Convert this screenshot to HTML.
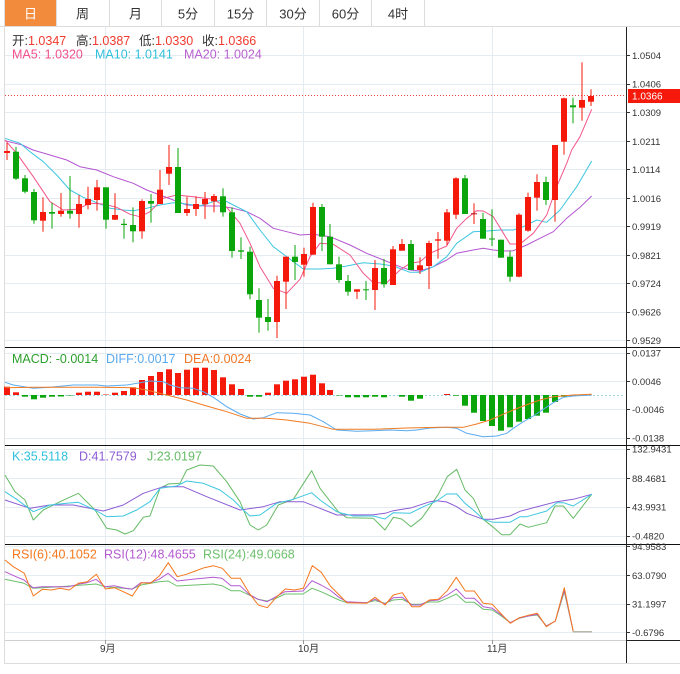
<!DOCTYPE html>
<html><head><meta charset="utf-8"><style>
html,body{margin:0;padding:0;background:#fff;}
svg{display:block;}
.r{fill:#f4190a}.g{fill:#0aa50a}.d{fill:#b01010}
.gl{stroke:#e4ebf1;stroke-width:1;shape-rendering:crispEdges}
.ax{font-family:"Liberation Sans",sans-serif;font-size:9.5px;fill:#333}
.lg{font-family:"Liberation Sans","Noto Sans CJK SC",sans-serif;font-size:12.5px}
.tb{font-family:"Liberation Sans","Noto Sans CJK SC",sans-serif;font-size:13px;fill:#333;text-anchor:middle}
.tk{stroke:#333;stroke-width:1;shape-rendering:crispEdges}
.ln{fill:none;stroke-width:1;stroke-linejoin:round}
</style></head><body>
<svg width="680" height="674" viewBox="0 0 680 674" xmlns="http://www.w3.org/2000/svg">
<rect x="0" y="0" width="680" height="674" fill="#fff"/>
<!-- tabs -->
<rect x="5" y="0" width="51" height="26" fill="#f38b3c"/>
<g stroke="#dcdcdc" stroke-width="1" shape-rendering="crispEdges">
<line x1="4.5" y1="0" x2="4.5" y2="663"/>
<line x1="56.5" y1="0" x2="56.5" y2="26"/>
<line x1="109.5" y1="0" x2="109.5" y2="26"/>
<line x1="161.5" y1="0" x2="161.5" y2="26"/>
<line x1="214.5" y1="0" x2="214.5" y2="26"/>
<line x1="266.5" y1="0" x2="266.5" y2="26"/>
<line x1="319.5" y1="0" x2="319.5" y2="26"/>
<line x1="371.5" y1="0" x2="371.5" y2="26"/>
<line x1="424.5" y1="0" x2="424.5" y2="26"/>
<line x1="0" y1="26.5" x2="680" y2="26.5"/>
<line x1="4" y1="663.5" x2="680" y2="663.5"/>
</g>
<text class="tb" x="30.5" y="18.5" style="fill:#fff">日</text>
<text class="tb" x="82.5" y="18.5">周</text>
<text class="tb" x="135.5" y="18.5">月</text>
<text class="tb" x="188" y="18.5">5分</text>
<text class="tb" x="240.5" y="18.5">15分</text>
<text class="tb" x="293" y="18.5">30分</text>
<text class="tb" x="345.5" y="18.5">60分</text>
<text class="tb" x="398" y="18.5">4时</text>

<!-- grid -->
<g class="gl">
<line x1="5" y1="55.5" x2="626" y2="55.5"/>
<line x1="5" y1="84.5" x2="626" y2="84.5"/>
<line x1="5" y1="112.5" x2="626" y2="112.5"/>
<line x1="5" y1="141.5" x2="626" y2="141.5"/>
<line x1="5" y1="169.5" x2="626" y2="169.5"/>
<line x1="5" y1="198.5" x2="626" y2="198.5"/>
<line x1="5" y1="226.5" x2="626" y2="226.5"/>
<line x1="5" y1="255.5" x2="626" y2="255.5"/>
<line x1="5" y1="283.5" x2="626" y2="283.5"/>
<line x1="5" y1="312.5" x2="626" y2="312.5"/>
<line x1="5" y1="340.5" x2="626" y2="340.5"/>
<line x1="5" y1="353.5" x2="626" y2="353.5"/>
<line x1="5" y1="381.5" x2="626" y2="381.5"/>
<line x1="5" y1="409.5" x2="626" y2="409.5"/>
<line x1="5" y1="438.5" x2="626" y2="438.5"/>
<line x1="5" y1="449.5" x2="626" y2="449.5"/>
<line x1="5" y1="478.5" x2="626" y2="478.5"/>
<line x1="5" y1="507.5" x2="626" y2="507.5"/>
<line x1="5" y1="536.5" x2="626" y2="536.5"/>
<line x1="5" y1="546.5" x2="626" y2="546.5"/>
<line x1="5" y1="575.5" x2="626" y2="575.5"/>
<line x1="5" y1="604.5" x2="626" y2="604.5"/>
<line x1="5" y1="632.5" x2="626" y2="632.5"/>
<line x1="105.5" y1="27" x2="105.5" y2="640"/>
<line x1="303.5" y1="27" x2="303.5" y2="640"/>
<line x1="492.5" y1="27" x2="492.5" y2="640"/>
</g>

<!-- price dotted line -->
<line x1="5" y1="95.5" x2="626" y2="95.5" stroke="#f04040" stroke-width="1" stroke-dasharray="1,2"/>

<!-- MA lines -->
<polyline class="ln" stroke="#b455d0" points="5,140.7 22.3,145 33,150 50,155 66.7,160 80,166.7 96.7,170 113.3,176.7 133.3,183.3 146.7,190 160,195 173.3,200 186.7,205 206.7,206 220,206 233.3,208.3 246.7,211.7 260,218.3 273.3,228.3 286.7,231.7 300,235 313.3,234.3 330,236.7 350,245 366.7,253.3 383.3,260 400,266.7 410,270 420,271 433.3,266.7 446.7,260 456.7,253.3 473.3,250 483.3,248.3 493.3,250 503.3,251 513.3,250.7 526.7,245 540,238.3 553.3,231.7 566.7,218.3 580,207.3 591.7,196"/>
<polyline class="ln" stroke="#3ec6e0" points="5,138.3 20,143.3 30,151.7 43.3,161.7 56.7,175 70,190 83.3,197.3 96.7,202.7 110,208.3 123.3,210 133.3,210.7 146.7,208.3 160,205 173.3,202.7 186.7,204 200,206 213.3,201.7 223.3,200 233.3,205 246.7,211.7 260,230 273.3,246.7 286.7,256.7 303.3,269 320,269 333.3,268.3 346.7,266 363.3,262.7 380,264 393.3,266 410,272.3 420,272.3 433.3,266.7 446.7,256.7 456.7,243.3 473.3,231.7 486.7,231 500,230 513.3,230 523.3,226.7 536.7,220 546.7,222.3 560,210 576.7,186.7 591.7,161"/>
<polyline class="ln" stroke="#f2558a" points="5,140 16.7,153.3 33.3,176.7 50,201.7 63.3,210 76.7,209.3 90,203.3 103.3,204 116.7,207.3 130,214.3 140,216.7 150,211.7 163.3,198.3 176.7,195 193.3,196.7 213.3,199.3 226.7,207.3 240,223.3 250,243.3 260,266.7 273.3,288.3 286.7,293.3 300,279.3 310,256.7 320,243.3 333.3,244.3 350,255 363.3,273.3 373.3,282.7 386.7,282.7 400,270 410,263.3 420,261.7 430,253.3 446.7,246 456.7,228.3 466.7,218.3 476.7,210.7 483.3,211 493.3,216.7 510,244 520,244 533.3,233.3 546.7,215 556.7,186.7 566.7,163.3 571.7,150 580,136.7 591.7,109.3"/>

<!-- candles -->
<g>
<rect class="r" x="6.5" y="143" width="1" height="17"/><rect class="r" x="4" y="151" width="6" height="2"/>
<rect class="g" x="15.5" y="146.7" width="1" height="33.3"/><rect class="g" x="13" y="151.7" width="6" height="27"/>
<rect class="g" x="24.5" y="175" width="1" height="18.3"/><rect class="g" x="22" y="178.3" width="6" height="13.4"/>
<rect class="g" x="33.5" y="189" width="1" height="34.7"/><rect class="g" x="31" y="192" width="6" height="28.3"/>
<rect class="r" x="42.5" y="197.3" width="1" height="34.4"/><rect class="r" x="40" y="212" width="6" height="8.7"/>
<rect class="g" x="51.5" y="202.7" width="1" height="26"/><rect class="g" x="49" y="212" width="6" height="1.7"/>
<rect class="r" x="60.5" y="193" width="1" height="23.7"/><rect class="r" x="58" y="210.7" width="6" height="3.3"/>
<rect class="g" x="69.5" y="176" width="1" height="42.7"/><rect class="g" x="67" y="210.7" width="6" height="3"/>
<rect class="r" x="78.5" y="195" width="1" height="32.7"/><rect class="r" x="76" y="204" width="6" height="10"/>
<rect class="r" x="87.5" y="186.7" width="1" height="22.6"/><rect class="r" x="85" y="199" width="6" height="6"/>
<rect class="r" x="96.5" y="180" width="1" height="30.7"/><rect class="r" x="94" y="187.3" width="6" height="12.7"/>
<rect class="g" x="105.5" y="187.3" width="1" height="41.4"/><rect class="g" x="103" y="187.3" width="6" height="32.4"/>
<rect class="r" x="114.5" y="193.3" width="1" height="26.7"/><rect class="r" x="112" y="215" width="6" height="4.7"/>
<rect class="g" x="123.5" y="219" width="1" height="19.7"/><rect class="g" x="121" y="223.8" width="6" height="1.2"/>
<rect class="g" x="132.5" y="207.3" width="1" height="35"/><rect class="g" x="130" y="225" width="6" height="6.3"/>
<rect class="r" x="141.5" y="199.3" width="1" height="39.4"/><rect class="r" x="139" y="201" width="6" height="30.3"/>
<rect class="g" x="150.5" y="194" width="1" height="28.7"/><rect class="g" x="148" y="201" width="6" height="2.7"/>
<rect class="r" x="159.5" y="170" width="1" height="34"/><rect class="r" x="157" y="189.7" width="6" height="14.3"/>
<rect class="r" x="168.5" y="145" width="1" height="40"/><rect class="r" x="166" y="167" width="6" height="6.7"/>
<rect class="g" x="177.5" y="148" width="1" height="65"/><rect class="g" x="175" y="167" width="6" height="46"/>
<rect class="r" x="186.5" y="196.7" width="1" height="19.3"/><rect class="r" x="184" y="209" width="6" height="4"/>
<rect class="r" x="195.5" y="196.3" width="1" height="19.7"/><rect class="r" x="193" y="204" width="6" height="5"/>
<rect class="r" x="204.5" y="192" width="1" height="27"/><rect class="r" x="202" y="199" width="6" height="5.3"/>
<rect class="r" x="213.5" y="194" width="1" height="18.3"/><rect class="r" x="211" y="196" width="6" height="5.3"/>
<rect class="g" x="222.5" y="188.3" width="1" height="28.4"/><rect class="g" x="220" y="196.3" width="6" height="16"/>
<rect class="g" x="231.5" y="207.3" width="1" height="50.4"/><rect class="g" x="229" y="212.3" width="6" height="38.7"/>
<rect class="g" x="240.5" y="237.3" width="1" height="21.7"/><rect class="g" x="238" y="250.3" width="6" height="1.4"/>
<rect class="g" x="249.5" y="246.7" width="1" height="52.6"/><rect class="g" x="247" y="251.7" width="6" height="42.6"/>
<rect class="g" x="258.5" y="288.3" width="1" height="44.4"/><rect class="g" x="256" y="300" width="6" height="17.7"/>
<rect class="g" x="267.5" y="299" width="1" height="31.7"/><rect class="g" x="265" y="317" width="6" height="5"/>
<rect class="r" x="276.5" y="275.7" width="1" height="62.3"/><rect class="r" x="274" y="281" width="6" height="41"/>
<rect class="r" x="285.5" y="256.7" width="1" height="52.3"/><rect class="r" x="283" y="256.7" width="6" height="25"/>
<rect class="g" x="294.5" y="245" width="1" height="35"/><rect class="g" x="292" y="256.7" width="6" height="5.3"/>
<rect class="r" x="303.5" y="247.7" width="1" height="29"/><rect class="r" x="301" y="254" width="6" height="10.7"/>
<rect class="r" x="312.5" y="202.7" width="1" height="52"/><rect class="r" x="310" y="207" width="6" height="47.7"/>
<rect class="g" x="321.5" y="204" width="1" height="47"/><rect class="g" x="319" y="207" width="6" height="29.7"/>
<rect class="g" x="329.5" y="224" width="1" height="40.3"/><rect class="g" x="327" y="236.7" width="6" height="27.6"/>
<rect class="g" x="338.5" y="256.7" width="1" height="26"/><rect class="g" x="336" y="264.3" width="6" height="15.7"/>
<rect class="g" x="347.5" y="275" width="1" height="20.7"/><rect class="g" x="345" y="281" width="6" height="10.7"/>
<rect class="r" x="356.5" y="289.3" width="1" height="9.7"/><rect class="r" x="354" y="289.3" width="6" height="2.4"/>
<rect class="g" x="365.5" y="281" width="1" height="19"/><rect class="g" x="363" y="289.3" width="6" height="1"/>
<rect class="r" x="374.5" y="260" width="1" height="50"/><rect class="r" x="372" y="268" width="6" height="22"/>
<rect class="g" x="383.5" y="259" width="1" height="28.7"/><rect class="g" x="381" y="268" width="6" height="16.3"/>
<rect class="r" x="392.5" y="246" width="1" height="39"/><rect class="r" x="390" y="249.3" width="6" height="35.7"/>
<rect class="r" x="401.5" y="239" width="1" height="11.7"/><rect class="r" x="399" y="244" width="6" height="6.7"/>
<rect class="g" x="410.5" y="240" width="1" height="30"/><rect class="g" x="408" y="244" width="6" height="26"/>
<rect class="r" x="419.5" y="257.3" width="1" height="16.7"/><rect class="r" x="417" y="265.3" width="6" height="4.7"/>
<rect class="r" x="428.5" y="240.7" width="1" height="48.3"/><rect class="r" x="426" y="243" width="6" height="23"/>
<rect class="r" x="437.5" y="232" width="1" height="26.7"/><rect class="r" x="435" y="239.3" width="6" height="1.4"/>
<rect class="r" x="446.5" y="209" width="1" height="36"/><rect class="r" x="444" y="212.3" width="6" height="28.4"/>
<rect class="r" x="455.5" y="177.3" width="1" height="41.7"/><rect class="r" x="453" y="178.3" width="6" height="36.4"/>
<rect class="g" x="464.5" y="175" width="1" height="39"/><rect class="g" x="462" y="178.3" width="6" height="35.7"/>
<rect class="r" x="473.5" y="203.3" width="1" height="20.7"/><rect class="d" x="471" y="213.3" width="6" height="1"/>
<rect class="g" x="482.5" y="212.7" width="1" height="26"/><rect class="g" x="480" y="219" width="6" height="19.7"/>
<rect class="g" x="491.5" y="209.3" width="1" height="36.7"/><rect class="g" x="489" y="238.5" width="6" height="1"/>
<rect class="g" x="500.5" y="239.7" width="1" height="18"/><rect class="g" x="498" y="239.7" width="6" height="18"/>
<rect class="g" x="509.5" y="250.7" width="1" height="31"/><rect class="g" x="507" y="256.7" width="6" height="20"/>
<rect class="r" x="518.5" y="213.3" width="1" height="64"/><rect class="r" x="516" y="214.7" width="6" height="62"/>
<rect class="r" x="527.5" y="192.7" width="1" height="39"/><rect class="r" x="525" y="197" width="6" height="33.7"/>
<rect class="r" x="536.5" y="174.3" width="1" height="36.4"/><rect class="r" x="534" y="182" width="6" height="15.7"/>
<rect class="g" x="545.5" y="176.7" width="1" height="28.3"/><rect class="g" x="543" y="182" width="6" height="18"/>
<rect class="r" x="554.5" y="145" width="1" height="76.7"/><rect class="r" x="552" y="145" width="6" height="55"/>
<rect class="r" x="563.5" y="97.7" width="1" height="57"/><rect class="r" x="561" y="98.3" width="6" height="43.4"/>
<rect class="g" x="572.5" y="97.7" width="1" height="25.6"/><rect class="g" x="570" y="105.3" width="6" height="2"/>
<rect class="r" x="581.5" y="62.3" width="1" height="58.4"/><rect class="r" x="579" y="100" width="6" height="7.7"/>
<rect class="r" x="590.5" y="89.3" width="1" height="16.7"/><rect class="r" x="588" y="96" width="6" height="5.7"/>
</g>

<!-- MACD zero line -->
<line x1="5" y1="395.5" x2="624" y2="395.5" stroke="#9fd3e6" stroke-width="1" stroke-dasharray="2,2"/>
<!-- MACD bars -->
<g>
<rect class="r" x="4" y="386.7" width="6" height="8.3"/>
<rect class="r" x="13" y="392.3" width="6" height="2.7"/>
<rect class="g" x="22" y="395" width="6" height="1.7"/>
<rect class="g" x="31" y="395" width="6" height="4.3"/>
<rect class="g" x="40" y="395" width="6" height="2.7"/>
<rect class="g" x="49" y="395" width="6" height="1.7"/>
<rect class="g" x="58" y="395" width="6" height="1.5"/>
<rect class="g" x="67" y="395" width="6" height="0.5"/>
<rect class="r" x="76" y="392.7" width="6" height="2.3"/>
<rect class="r" x="85" y="391.7" width="6" height="3.3"/>
<rect class="r" x="94" y="391.7" width="6" height="3.3"/>
<rect class="r" x="103" y="394.5" width="6" height="0.5"/>
<rect class="r" x="112" y="392.7" width="6" height="2.3"/>
<rect class="r" x="121" y="391" width="6" height="4"/>
<rect class="r" x="130" y="387.3" width="6" height="7.7"/>
<rect class="r" x="139" y="380" width="6" height="15"/>
<rect class="r" x="148" y="376" width="6" height="19"/>
<rect class="r" x="157" y="372" width="6" height="23"/>
<rect class="r" x="166" y="369.3" width="6" height="25.7"/>
<rect class="r" x="175" y="373" width="6" height="22"/>
<rect class="r" x="184" y="369.7" width="6" height="25.3"/>
<rect class="r" x="193" y="367.7" width="6" height="27.3"/>
<rect class="r" x="202" y="367.7" width="6" height="27.3"/>
<rect class="r" x="211" y="370" width="6" height="25"/>
<rect class="r" x="220" y="377.3" width="6" height="17.7"/>
<rect class="r" x="229" y="384.3" width="6" height="10.7"/>
<rect class="r" x="238" y="389" width="6" height="6"/>
<rect class="g" x="247" y="395" width="6" height="1.7"/>
<rect class="g" x="256" y="395" width="6" height="1.7"/>
<rect class="r" x="265" y="392.7" width="6" height="2.3"/>
<rect class="r" x="274" y="384.3" width="6" height="10.7"/>
<rect class="r" x="283" y="380.7" width="6" height="14.3"/>
<rect class="r" x="292" y="379.3" width="6" height="15.7"/>
<rect class="r" x="301" y="376.7" width="6" height="18.3"/>
<rect class="r" x="310" y="374.7" width="6" height="20.3"/>
<rect class="r" x="319" y="383.3" width="6" height="11.7"/>
<rect class="r" x="327" y="390" width="6" height="5"/>
<rect class="g" x="336" y="395" width="6" height="0.5"/>
<rect class="g" x="345" y="395" width="6" height="2.3"/>
<rect class="g" x="354" y="395" width="6" height="2.3"/>
<rect class="g" x="363" y="395" width="6" height="2.3"/>
<rect class="g" x="372" y="395" width="6" height="1.7"/>
<rect class="g" x="381" y="395" width="6" height="2.3"/>
<rect class="g" x="399" y="395" width="6" height="1.7"/>
<rect class="g" x="408" y="395" width="6" height="5.7"/>
<rect class="g" x="417" y="395" width="6" height="3.7"/>
<rect class="r" x="444" y="394" width="6" height="1"/>
<rect class="g" x="453" y="395" width="6" height="0.7"/>
<rect class="g" x="462" y="395" width="6" height="10.7"/>
<rect class="g" x="471" y="395" width="6" height="17.7"/>
<rect class="g" x="480" y="395" width="6" height="26"/>
<rect class="g" x="489" y="395" width="6" height="31"/>
<rect class="g" x="498" y="395" width="6" height="35.7"/>
<rect class="g" x="507" y="395" width="6" height="32.3"/>
<rect class="g" x="516" y="395" width="6" height="26.7"/>
<rect class="g" x="525" y="395" width="6" height="24"/>
<rect class="g" x="534" y="395" width="6" height="20.7"/>
<rect class="g" x="543" y="395" width="6" height="17.7"/>
<rect class="g" x="552" y="395" width="6" height="7"/>
<rect class="g" x="561" y="395" width="6" height="1.7"/>
<rect class="g" x="570" y="395" width="6" height="1"/>
</g>
<polyline class="ln" stroke="#5aabf0" points="5,382.3 13.3,385 33.3,388.3 50,387.3 73.3,385 96.7,385 106.7,386 126.7,385 140,382.7 150,381 163.3,381.7 170,385 180,387.7 193.3,388.3 203.3,391.7 213.3,397.3 226.7,406.7 240,414 253.3,419 263.3,417.7 276.7,412.7 293.3,413.3 310,415 323.3,421.7 336.7,430 356.7,431.3 373.3,430.7 390,430 406.7,430.7 416.7,430 430,428 446.7,427.3 456.7,428.3 466.7,433.3 483.3,436.7 496.7,436 506.7,433.3 513.3,428.3 523.3,421.7 533.3,416 543.3,409.3 553.3,402.7 563.3,397.3 573.3,396 591.7,395"/>
<polyline class="ln" stroke="#f07a22" points="5,387.7 33.3,387.3 66.7,387.3 100,387.3 133.3,387.7 146.7,390 166.7,395 186.7,400 206.7,406 226.7,411.7 246.7,418.3 266.7,418.3 286.7,420 310,423.3 333.3,429.3 373.3,429.3 406.7,428 440,427.3 463.3,427.3 476.7,424 490,420 506.7,412.7 523.3,406 540,400 553.3,396.7 573.3,395 591.7,394.3"/>

<!-- KDJ -->
<polyline class="ln" stroke="#66bb66" points="5,475 15,491.7 25,500 33.3,520 43.3,510 60,501.7 78.3,493.3 95,510 106.7,528.3 116.7,530 125,534 133.3,530.7 143.3,517.3 150,516 160,488.3 168.3,484 180,483.3 186.7,470 200,465 213.3,466 226.7,481.7 240,501.7 250,525 258.3,530 266.7,525 278.3,505 293.3,499.3 311.7,470.7 320,488.3 338.3,511.7 346.7,517.7 373.3,518.3 385,530 393.3,517.3 401.7,519 411,526.7 421.7,518.3 430,506.7 438.3,494.3 447.3,476.7 456.7,469.3 465,490 473.3,498.3 483.3,519.3 493.3,527.3 501.7,534.7 510,534.7 520,524 528.3,527.3 546.7,522.7 555,506 563.3,506 573.3,518.3 591.7,494.3"/>
<polyline class="ln" stroke="#8c5cd4" points="5,500 30,508.3 50,505 73.3,505 103.3,511 123.3,505 143.3,493.3 163.3,486.7 183.3,486.7 206.7,496.7 240,510 263.3,506.7 280,501.7 303.3,501.7 320,508.3 336.7,515 373.3,514.7 385,513.3 393.3,510.7 411.7,507.7 430,501.7 436.7,500.7 446.7,502 456.7,506.7 466.7,513.3 483.3,519.3 493.3,519.3 510,516 520,511.3 540,506 556.7,501.7 573.3,499.3 591.7,494.3"/>
<polyline class="ln" stroke="#3ec6e0" points="5,491.7 16.7,499.3 33.3,511.7 50,505 66.7,503.3 78.3,502.3 95,510 106.7,516.7 123.3,516 136.7,510 150,501.7 160,488.3 176.7,486 186.7,481 203.3,483.3 220,490 233.3,500 243.3,510 250,516 260,515 276.7,503.3 293.3,499.3 311.7,492.7 320,500 336.7,511.7 340,512.7 353.3,516 373.3,516 385,519 393.3,512.7 410,513.3 423.3,506.7 436.7,501 446.7,494 456.7,494 465,503.3 473.3,510 483.3,519.3 493.3,522.3 510,522.3 520,516.7 526.7,516.7 546.7,511 556.7,502.7 563.3,502.7 573.3,506 591.7,494.3"/>

<!-- RSI -->
<polyline class="ln" stroke="#6cc06c" points="5,579.3 24,583.3 33,588.3 60,586.7 96,584 105,586.7 132,589 141,585 159,581.7 168,581 177,586 213,584 222,585.7 231,590.7 240,590.7 258,599.3 267,601 276,598.3 285,594 303,594 312,588.3 321,591.7 339,600 346.7,602.7 366.7,602.7 375,600.7 385,603.3 393.3,600 402.3,599.3 411.7,604.3 420,604.3 429.3,602 438.3,602 447.3,598.3 456.3,594 465.3,602.3 474.3,602.3 483.3,609.3 492.3,610 501.3,616 510.3,622.7 519.3,618.3 528.3,616 537.3,615 546.3,626 555.3,621 564.3,591.7 573.3,631.7 591.7,631.7"/>
<polyline class="ln" stroke="#b45ad0" points="5,571.7 16,576.7 24,580 33,587.7 42,586.7 60,586.7 69,586.7 78,584.3 87,582.7 96,579.3 105,586.7 114,585.7 123,587.7 132,589.3 141,582.7 150,582.7 159,579.3 168,573.3 177,581 195,579 213,577.3 222,578.3 231,585.7 240,585.7 249,594.3 258,599.3 267,601.7 276,596.7 285,591.7 303,591 312,580.7 321,585 330,590 339,597.3 346.7,601.7 366.7,602.7 375,599.3 385,604 393.3,597.7 402.3,597.3 411.7,605 420,605 429.3,600.7 438.3,600 447.3,595 456.3,589 465.3,598.3 474.3,598.3 483.3,606.7 492.3,608.3 501.3,615 510.3,622.7 519.3,618 528.3,616 537.3,614.3 546.3,626 555.3,621 564.3,590 573.3,631.7 591.7,631.7"/>
<polyline class="ln" stroke="#f5781e" points="5,560 13.3,566.7 24.3,573.3 33.3,596 42.3,589.3 51.3,590 60.3,588.3 69.3,590 78.3,583.3 87.3,581.7 96.3,574.3 105.3,589 114.3,587.7 123.3,591.7 132.3,596 141.3,582.7 150.3,583.3 159.3,576 168.3,562.7 177.3,576.7 186.3,574.3 195.3,571 204.3,567.7 213.3,565.7 222.3,568.3 231.3,578.3 240.3,578.3 249.3,593.3 258.3,605 267.3,607.7 276.3,597.3 285.3,589 294.3,590 303.3,588.3 312.3,565.7 321.3,572.3 330.3,586 339.3,595 346.7,602.7 366.7,603.3 375,597.3 385,605 393.3,595 402.3,592.7 411.7,606.7 420,606.7 429.3,600 438.3,599.3 447.3,590.7 456.3,577.3 465.3,591 474.3,591 483.3,603.3 492.3,604.3 501.3,614 510.3,623.3 519.3,617.7 528.3,615.3 537.3,613.3 546.3,626.7 555.3,621 564.3,587.7 573.3,631.7"/>
<line x1="573" y1="631.7" x2="592" y2="631.7" stroke="#b8b8a8" stroke-width="1.5"/>

<!-- panel separators and axes -->
<g shape-rendering="crispEdges">
<line x1="5" y1="640.5" x2="626" y2="640.5" stroke="#cfcfcf" stroke-width="1"/>
<line x1="626" y1="640.5" x2="680" y2="640.5" stroke="#222" stroke-width="1"/>
<line x1="5" y1="347.5" x2="680" y2="347.5" stroke="#111" stroke-width="1"/>
<line x1="5" y1="445.5" x2="680" y2="445.5" stroke="#111" stroke-width="1"/>
<line x1="5" y1="544.5" x2="680" y2="544.5" stroke="#111" stroke-width="1"/>
<line x1="626.5" y1="27" x2="626.5" y2="663" stroke="#222" stroke-width="1"/>
<line x1="105.5" y1="640" x2="105.5" y2="644" stroke="#999" stroke-width="1"/>
<line x1="303.5" y1="640" x2="303.5" y2="644" stroke="#999" stroke-width="1"/>
<line x1="492.5" y1="640" x2="492.5" y2="644" stroke="#999" stroke-width="1"/>
</g>
<g class="tk">
<line x1="626" y1="55.5" x2="630" y2="55.5"/><line x1="626" y1="84.5" x2="630" y2="84.5"/><line x1="626" y1="112.5" x2="630" y2="112.5"/><line x1="626" y1="141.5" x2="630" y2="141.5"/><line x1="626" y1="169.5" x2="630" y2="169.5"/><line x1="626" y1="198.5" x2="630" y2="198.5"/><line x1="626" y1="226.5" x2="630" y2="226.5"/><line x1="626" y1="255.5" x2="630" y2="255.5"/><line x1="626" y1="283.5" x2="630" y2="283.5"/><line x1="626" y1="312.5" x2="630" y2="312.5"/><line x1="626" y1="340.5" x2="630" y2="340.5"/>
<line x1="626" y1="353.5" x2="630" y2="353.5"/><line x1="626" y1="381.5" x2="630" y2="381.5"/><line x1="626" y1="409.5" x2="630" y2="409.5"/><line x1="626" y1="438.5" x2="630" y2="438.5"/>
<line x1="626" y1="449.5" x2="630" y2="449.5"/><line x1="626" y1="478.5" x2="630" y2="478.5"/><line x1="626" y1="507.5" x2="630" y2="507.5"/><line x1="626" y1="536.5" x2="630" y2="536.5"/>
<line x1="626" y1="546.5" x2="630" y2="546.5"/><line x1="626" y1="575.5" x2="630" y2="575.5"/><line x1="626" y1="604.5" x2="630" y2="604.5"/><line x1="626" y1="632.5" x2="630" y2="632.5"/>
</g>

<!-- axis labels -->
<g class="ax">
<text x="632" y="59">1.0504</text>
<text x="632" y="87.5">1.0406</text>
<text x="632" y="116">1.0309</text>
<text x="632" y="144.8">1.0211</text>
<text x="632" y="173">1.0114</text>
<text x="632" y="201.8">1.0016</text>
<text x="632" y="230">0.9919</text>
<text x="632" y="258.8">0.9821</text>
<text x="632" y="287">0.9724</text>
<text x="632" y="315.5">0.9626</text>
<text x="632" y="344">0.9529</text>
<text x="632" y="356.5">0.0137</text>
<text x="632" y="385">0.0046</text>
<text x="632" y="413">-0.0046</text>
<text x="632" y="441.5">-0.0138</text>
<text x="632" y="452.5">132.9431</text>
<text x="632" y="481.8">88.4681</text>
<text x="632" y="510.5">43.9931</text>
<text x="632" y="539.5">-0.4820</text>
<text x="632" y="550">94.9583</text>
<text x="632" y="579">63.0790</text>
<text x="632" y="607.5">31.1997</text>
<text x="632" y="635.8">-0.6796</text>
</g>
<rect x="628" y="89" width="52" height="14" fill="#f4190a"/>
<text class="ax" x="632" y="99.3" style="fill:#fff;font-size:10px">1.0366</text>

<g class="ax" style="font-family:'Liberation Sans','Noto Sans CJK SC',sans-serif;font-size:10px">
<text x="100" y="652">9月</text>
<text x="298" y="652">10月</text>
<text x="487" y="652">11月</text>
</g>

<!-- legends -->
<text class="lg" x="12" y="45"><tspan fill="#333">开:</tspan><tspan fill="#f03a2e">1.0347</tspan><tspan fill="#333" x="76">高:</tspan><tspan fill="#f03a2e">1.0387</tspan><tspan fill="#333" x="139">低:</tspan><tspan fill="#f03a2e">1.0330</tspan><tspan fill="#333" x="202">收:</tspan><tspan fill="#f03a2e">1.0366</tspan></text>
<text class="lg" x="12" y="58.5"><tspan fill="#f0508c">MA5: 1.0320</tspan><tspan fill="#30c0dc" x="95">MA10: 1.0141</tspan><tspan fill="#b860d0" x="184">MA20: 1.0024</tspan></text>
<text class="lg" x="12" y="363"><tspan fill="#2ca02c">MACD: -0.0014</tspan><tspan fill="#5aaaf0" x="106">DIFF:0.0017</tspan><tspan fill="#f07828" x="184">DEA:0.0024</tspan></text>
<text class="lg" x="12" y="460.5"><tspan fill="#30c0dc">K:35.5118</tspan><tspan fill="#8c5cd4" x="79">D:41.7579</tspan><tspan fill="#66bb66" x="147">J:23.0197</tspan></text>
<text class="lg" x="12" y="558.5"><tspan fill="#f5781e">RSI(6):40.1052</tspan><tspan fill="#b45ad0" x="104">RSI(12):48.4655</tspan><tspan fill="#6cc06c" x="203">RSI(24):49.0668</tspan></text>
</svg>
</body></html>
